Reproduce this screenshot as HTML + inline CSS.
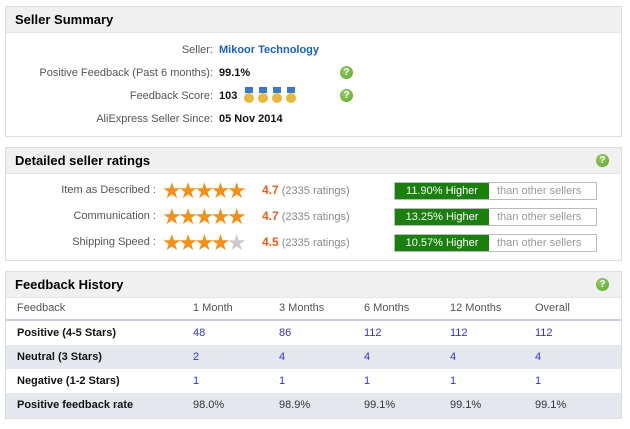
<!DOCTYPE html><html><head><style>
body{margin:0;width:630px;height:429px;background:#fff;font-family:"Liberation Sans",Arial,sans-serif;font-size:11px;color:#333;position:relative;overflow:hidden}
.p{position:absolute;left:5px;width:615px;border:1px solid #ddd;background:#fff}
.h{background:#f0f0f0;height:25px;line-height:25px;padding-left:9px;font-weight:bold;font-size:13px;color:#000;border-bottom:1px solid #e6e6e6}
.a{position:absolute;font-size:11px;white-space:nowrap}
.q{position:absolute;width:13px;height:13px;border-radius:50%;background:radial-gradient(circle at 40% 35%,#9c6,#5a2);color:#fff;font-size:10px;font-weight:bold;text-align:center;line-height:13px}
.lab{color:#555;text-align:right;width:207px;left:0}
.v{font-weight:bold;color:#111;left:213px}
.st{color:#f39019;font-size:22px;letter-spacing:-3.5px;left:156px;line-height:22px}
.bar{position:absolute;left:388px;width:201px;height:16px;border:1px solid #bbb;background:#fff}
.bar b{display:inline-block;width:94px;height:16px;background:#1a7f0d;color:#fff;font-weight:normal;text-align:center;line-height:16px;font-size:11px}
.bar span{color:#999;padding-left:8px;line-height:16px}
.r{position:absolute;left:0;width:615px;height:24px}
.c{position:absolute;white-space:nowrap;color:#33c;top:6px}
.m{position:absolute;top:80px;width:10px;height:18px}
.m:before{content:"";position:absolute;left:1px;top:0;width:8px;height:6px;background:#3a78c8}
.m:after{content:"";position:absolute;left:0;top:6px;width:10px;height:10px;border-radius:50%;background:#e9b83c}
</style></head><body>
<div class="p" style="top:6px;height:129px"><div class="h">Seller Summary</div>
<div class="a lab" style="top:37px">Seller:</div><div class="a" style="left:213px;top:37px;color:#1a5fc4;font-weight:bold">Mikoor Technology</div>
<div class="a lab" style="top:60px">Positive Feedback (Past 6 months):</div><div class="a v" style="top:60px">99.1%</div><div class="q" style="left:334px;top:59px">?</div>
<div class="a lab" style="top:83px">Feedback Score:</div><div class="a v" style="top:83px">103</div>
<div class="m" style="left:238px"></div><div class="m" style="left:252px"></div><div class="m" style="left:266px"></div><div class="m" style="left:280px"></div>
<div class="q" style="left:334px;top:82px">?</div>
<div class="a lab" style="top:106px">AliExpress Seller Since:</div><div class="a v" style="top:106px">05 Nov 2014</div>
</div>
<div class="p" style="top:147px;height:112px"><div class="h">Detailed seller ratings</div><div class="q" style="left:590px;top:6px">?</div>
<div class="a" style="right:465px;top:36px;color:#555">Item as Described :</div><div class="a st" style="top:32px">★★★★★</div><div class="a" style="left:256px;top:35px"><b style="color:#f25c19;font-size:12px">4.7</b> <span style="color:#888">(2335 ratings)</span></div><div class="bar" style="top:34px"><b>11.90% Higher</b><span>than other sellers</span></div>
<div class="a" style="right:465px;top:62px;color:#555">Communication :</div><div class="a st" style="top:58px">★★★★★</div><div class="a" style="left:256px;top:61px"><b style="color:#f25c19;font-size:12px">4.7</b> <span style="color:#888">(2335 ratings)</span></div><div class="bar" style="top:60px"><b>13.25% Higher</b><span>than other sellers</span></div>
<div class="a" style="right:465px;top:88px;color:#555">Shipping Speed :</div><div class="a st" style="top:84px">★★★★<span style="color:#ccc">★</span></div><div class="a" style="left:256px;top:87px"><b style="color:#f25c19;font-size:12px">4.5</b> <span style="color:#888">(2335 ratings)</span></div><div class="bar" style="top:86px"><b>10.57% Higher</b><span>than other sellers</span></div>
</div>
<div class="p" style="top:271px;height:146px"><div class="h">Feedback History</div><div class="q" style="left:590px;top:6px">?</div>
<div class="r" style="top:26px;height:21px;border-bottom:2px solid #c8cce0"><div class="c" style="left:11px;color:#555;top:4px">Feedback</div><div class="c" style="left:187px;color:#555;top:4px">1 Month</div><div class="c" style="left:273px;color:#555;top:4px">3 Months</div><div class="c" style="left:358px;color:#555;top:4px">6 Months</div><div class="c" style="left:444px;color:#555;top:4px">12 Months</div><div class="c" style="left:529px;color:#555;top:4px">Overall</div></div>
<div class="r" style="top:49px"><div class="c" style="left:11px;color:#111;font-weight:bold">Positive (4-5 Stars)</div><div class="c" style="left:187px">48</div><div class="c" style="left:273px">86</div><div class="c" style="left:358px">112</div><div class="c" style="left:444px">112</div><div class="c" style="left:529px">112</div></div>
<div class="r" style="top:73px;background:#e4e7ee"><div class="c" style="left:11px;color:#111;font-weight:bold">Neutral (3 Stars)</div><div class="c" style="left:187px">2</div><div class="c" style="left:273px">4</div><div class="c" style="left:358px">4</div><div class="c" style="left:444px">4</div><div class="c" style="left:529px">4</div></div>
<div class="r" style="top:97px"><div class="c" style="left:11px;color:#111;font-weight:bold">Negative (1-2 Stars)</div><div class="c" style="left:187px">1</div><div class="c" style="left:273px">1</div><div class="c" style="left:358px">1</div><div class="c" style="left:444px">1</div><div class="c" style="left:529px">1</div></div>
<div class="r" style="top:121px;height:25px;background:#e4e7ee"><div class="c" style="left:11px;color:#111;font-weight:bold">Positive feedback rate</div><div class="c" style="left:187px;color:#333">98.0%</div><div class="c" style="left:273px;color:#333">98.9%</div><div class="c" style="left:358px;color:#333">99.1%</div><div class="c" style="left:444px;color:#333">99.1%</div><div class="c" style="left:529px;color:#333">99.1%</div></div>
</div>
</body></html>
